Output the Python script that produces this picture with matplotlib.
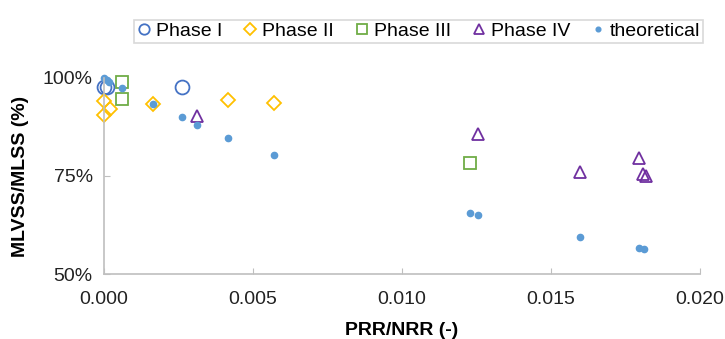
import matplotlib
matplotlib.use("Agg")
import matplotlib.pyplot as plt
from matplotlib.ticker import FuncFormatter

plt.rcParams['font.family'] = ['Liberation Sans', 'DejaVu Sans']

# Phase data (PRR/NRR, MLVSS/MLSS)
p1_x = [0.0000, 0.0001, 0.00262]
p1_y = [0.977, 0.976, 0.978]

p2_x = [0.0000, 0.0002, 0.0000, 0.00164, 0.00416, 0.0057]
p2_y = [0.941, 0.921, 0.906, 0.934, 0.944, 0.936]

p3_x = [0.0006, 0.0006, 0.01228]
p3_y = [0.990, 0.946, 0.783]

p4_x = [0.00312, 0.01255, 0.01597, 0.01795, 0.01809, 0.01818]
p4_y = [0.903, 0.856, 0.760, 0.796, 0.754, 0.751]

th_x = [0.0000, 0.0001, 0.00017, 0.0006, 0.00164, 0.00262, 0.00312, 0.00416,
        0.0057, 0.01228, 0.01255, 0.01597, 0.01795, 0.01812]
th_y = [0.999, 0.995, 0.990, 0.974, 0.934, 0.901, 0.880, 0.847,
        0.804, 0.656, 0.650, 0.594, 0.566, 0.564]

fig = plt.figure(figsize=(7.25, 3.39), dpi=100)
ax = fig.add_axes([0.1434, 0.1917, 0.8221, 0.5783])

ax.plot(p1_x, p1_y, 'o', ms=10, mfc='none', mec='#4472C4', mew=1.3, label='Phase I', clip_on=False)
ax.plot(p2_x, p2_y, 'D', ms=7.5, mfc='none', mec='#FFC000', mew=1.3, label='Phase II', clip_on=False)
ax.plot(p3_x, p3_y, 's', ms=9, mfc='none', mec='#70AD47', mew=1.3, label='Phase III', clip_on=False)
ax.plot(p4_x, p4_y, '^', ms=9, mfc='none', mec='#7030A0', mew=1.3, label='Phase IV', clip_on=False)
ax.plot(th_x, th_y, 'o', ms=4.5, color='#5B9BD5', mec='#5B9BD5', label='theoretical', clip_on=False)

ax.set_xlim(0, 0.020)
ax.set_ylim(0.5, 1.0)
ax.set_xticks([0, 0.005, 0.010, 0.015, 0.020])
ax.set_yticks([0.5, 0.75, 1.0])
ax.xaxis.set_major_formatter(FuncFormatter(lambda v, p: f"{v:.3f}"))
ax.yaxis.set_major_formatter(FuncFormatter(lambda v, p: f"{v*100:.0f}%"))

for s in ['top', 'right']:
    ax.spines[s].set_visible(False)
for s in ['left', 'bottom']:
    ax.spines[s].set_color('#BFBFBF')
    ax.spines[s].set_linewidth(1.2)
ax.tick_params(direction='in', length=4, color='#BFBFBF', labelsize=14, colors='#222222')
ax.tick_params(axis='x', pad=12)
ax.tick_params(axis='y', pad=8)
for lbl in ax.get_xticklabels() + ax.get_yticklabels():
    lbl.set_color('#222222')

ax.set_xlabel('PRR/NRR (-)', fontsize=14, fontweight='bold', labelpad=10)
ax.set_ylabel('MLVSS/MLSS (%)', fontsize=14, fontweight='bold', labelpad=10)

leg = fig.legend(loc='upper right', bbox_to_anchor=(713 / 725, 1 - 10 / 339), ncol=5,
                 fontsize=14, frameon=True, fancybox=False, handlelength=0.8,
                 handletextpad=0.2, columnspacing=1.05, borderpad=0.15, markerscale=0.75)
leg.get_frame().set_edgecolor('#D0D0D0')
leg.get_frame().set_linewidth(1.2)

fig.savefig('out.png', dpi=100)
